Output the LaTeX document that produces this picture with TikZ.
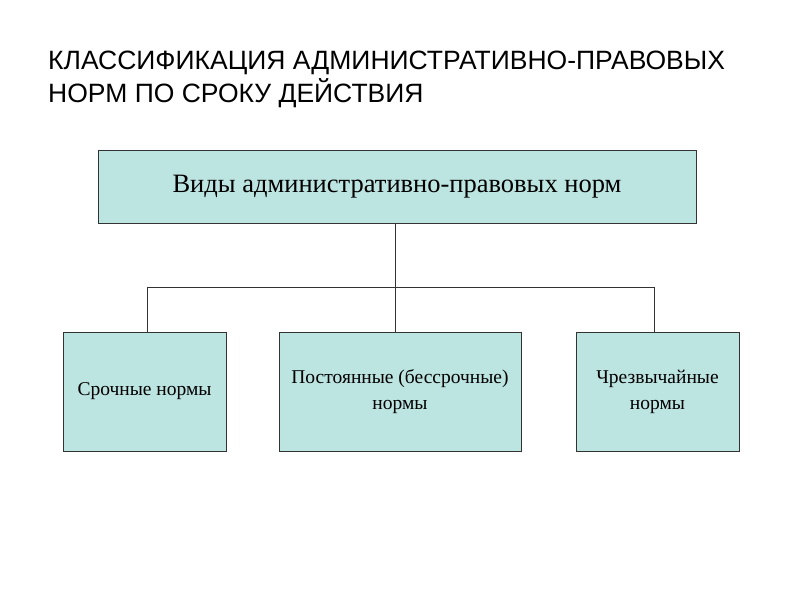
\documentclass[tikz,border=0pt]{standalone}
\usepackage{fontspec}
\setmainfont{Liberation Serif}
\newfontfamily\titlefont{Liberation Sans}
\definecolor{boxfill}{HTML}{BCE4E1}
\begin{document}
\begin{tikzpicture}[x=1pt,y=-1pt,
  box/.style={draw=black!80,fill=boxfill,line width=0.8pt,align=center,inner sep=0pt},
  conn/.style={draw=black!80,line width=0.8pt}]
\useasboundingbox (0,0) rectangle (800,600);
\node[anchor=base west,inner sep=0pt,font=\titlefont\fontsize{26.5}{30}\selectfont] (t1) at (48,69) {КЛАССИФИКАЦИЯ АДМИНИСТРАТИВНО-ПРАВОВЫХ};
\node[anchor=base west,inner sep=0pt,font=\titlefont\fontsize{26.5}{30}\selectfont] (t2) at (48,102) {НОРМ ПО СРОКУ ДЕЙСТВИЯ};
\node[box,minimum width=598,minimum height=73,font=\fontsize{26.5}{30}\selectfont] (top) at (397,186.5) {Виды административно-правовых норм};
\node[box,minimum width=163,minimum height=119,font=\fontsize{19.5}{26}\selectfont] (a) at (144.5,391.5) {Срочные нормы};
\node[box,minimum width=242,minimum height=119,font=\fontsize{19.5}{26}\selectfont] (b) at (400,391.5) {Постоянные (бессрочные)\\нормы};
\node[box,minimum width=163,minimum height=119,font=\fontsize{19.5}{26}\selectfont] (c) at (657.5,391.5) {Чрезвычайные\\нормы};
\coordinate (j) at (395,287);
\draw[conn] (top.south -| j) -- (j);
\draw[conn] (j) -- (b.north -| j);
\draw[conn] (j) -- (147,287) -- (a.north -| 147,0);
\draw[conn] (j) -- (654,287) -- (c.north -| 654,0);
\end{tikzpicture}
\end{document}
